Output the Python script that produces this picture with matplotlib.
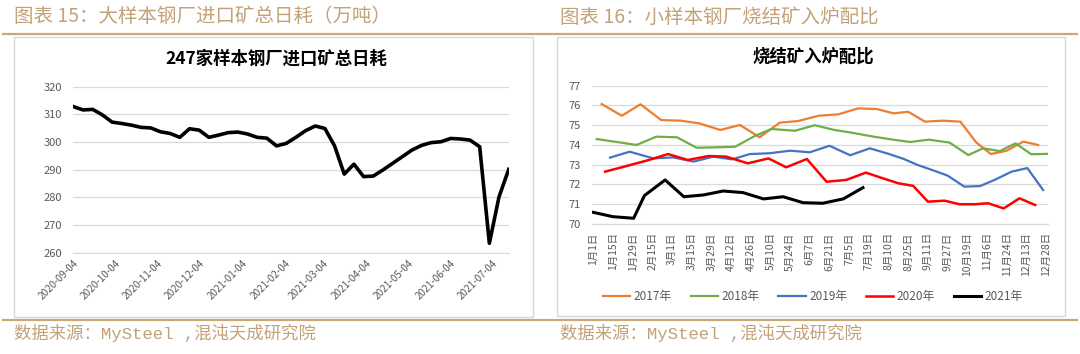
import matplotlib
matplotlib.use('Agg')
import matplotlib.pyplot as plt
import matplotlib.dates as mdates
from matplotlib.lines import Line2D
from matplotlib.patches import Rectangle
import pandas as pd

plt.rcParams['font.family'] = ['Noto Sans CJK SC', 'DejaVu Sans']

# ---- left: 247 mills, imported ore daily consumption (weekly) ----
ore_dates = pd.date_range('2020-09-04', periods=46, freq='7D')
ore_use = [312.8, 311.6, 311.8, 309.8, 307.2, 306.7, 306.1, 305.3, 305.1, 303.7,
           303.1, 301.7, 304.8, 304.3, 301.7, 302.5, 303.4, 303.6, 302.9, 301.7,
           301.4, 298.6, 299.5, 301.7, 304.1, 305.8, 304.9, 298.6, 288.4, 292.0,
           287.5, 287.7, 289.9, 292.3, 294.7, 297.1, 298.8, 299.8, 300.1, 301.3,
           301.1, 300.7, 298.3, 263.4, 280.2, 290.1]

# ---- right: sinter ratio, by year (x = position on the category axis) ----
cat_labels = ['1月1日', '1月15日', '1月29日', '2月15日', '3月1日', '3月15日', '3月29日',
              '4月12日', '4月26日', '5月10日', '5月24日', '6月7日', '6月21日', '7月5日',
              '7月19日', '8月10日', '8月25日', '9月11日', '9月27日', '10月19日',
              '11月6日', '11月24日', '12月13日', '12月28日']

x2017 = [0.85, 2.9, 4.8, 6.9, 8.9, 10.8, 12.9, 14.9, 16.9, 18.95, 20.8, 22.9, 24.9,
         26.9, 28.8, 30.5, 32.0, 33.7, 35.5, 37.3, 38.9, 40.4, 42.0, 43.7, 45.2]
y2017 = [76.07, 75.48, 76.06, 75.26, 75.23, 75.09, 74.76, 75.01, 74.39, 75.13, 75.21,
         75.48, 75.55, 75.85, 75.82, 75.60, 75.68, 75.18, 75.23, 75.18, 74.13, 73.54,
         73.71, 74.17, 74.00]

x2018 = [0.35, 2.4, 4.4, 6.4, 8.5, 10.5, 12.5, 14.4, 16.4, 18.1, 20.5, 22.5, 24.5,
         26.5, 28.5, 30.3, 32.2, 34.1, 36.2, 38.1, 39.6, 41.3, 42.9, 44.5, 46.1]
y2018 = [74.30, 74.15, 74.00, 74.42, 74.39, 73.86, 73.88, 73.91, 74.45, 74.81, 74.72,
         75.00, 74.76, 74.60, 74.42, 74.28, 74.15, 74.27, 74.12, 73.49, 73.83, 73.69,
         74.08, 73.53, 73.55]

x2019 = [1.7, 3.7, 6.1, 8.1, 10.2, 12.2, 14.1, 15.9, 17.9, 20.0, 22.0, 24.0, 26.1,
         28.1, 30.0, 31.5, 33.0, 34.5, 36.0, 37.7, 39.3, 40.9, 42.5, 44.1, 45.7]
y2019 = [73.36, 73.66, 73.32, 73.37, 73.16, 73.41, 73.27, 73.54, 73.58, 73.71, 73.63,
         73.96, 73.48, 73.83, 73.55, 73.30, 72.98, 72.72, 72.45, 71.89, 71.92, 72.26,
         72.65, 72.83, 71.72]

x2020 = [1.2, 3.5, 5.5, 7.6, 9.6, 11.7, 13.5, 15.7, 17.8, 19.6, 21.7, 23.7, 25.7,
         27.7, 29.5, 31.0, 32.5, 34.0, 35.7, 37.2, 38.8, 40.1, 41.7, 43.3, 44.9]
y2020 = [72.65, 72.95, 73.22, 73.54, 73.24, 73.44, 73.41, 73.07, 73.32, 72.87, 73.29,
         72.14, 72.23, 72.60, 72.30, 72.06, 71.93, 71.13, 71.18, 71.00, 71.00, 71.05,
         70.79, 71.30, 70.96]

x2021 = [0.0, 2.0, 4.1, 5.2, 7.3, 9.2, 11.2, 13.2, 15.2, 17.3, 19.3, 21.3, 23.3, 25.4, 27.4]
y2021 = [70.59, 70.37, 70.29, 71.44, 72.23, 71.38, 71.47, 71.67, 71.59, 71.27, 71.38,
         71.08, 71.05, 71.27, 71.84]

W, H = 1080, 354
TAN = '#C2A277'
GRID = '#D9D9D9'
TICK = '#595959'

fig = plt.figure(figsize=(W / 100, H / 100), dpi=100)


def box(x0, y0, x1, y1):
    # pixel box (y from top) -> figure fraction rect
    return [x0 / W, 1 - y1 / H, (x1 - x0) / W, (y1 - y0) / H]


def style(ax):
    for s in ['top', 'right', 'left']:
        ax.spines[s].set_visible(False)
    ax.spines['bottom'].set_color(GRID)
    ax.grid(axis='y', color=GRID, lw=0.9)
    ax.set_axisbelow(True)
    ax.tick_params(length=0, colors=TICK, labelsize=8)
    ax.tick_params(axis='y', pad=8)


# panel frames, header and footer rules
fig.add_artist(Rectangle((13.5 / W, 1 - 317 / H), (533.3 - 13.5) / W, (317 - 37) / H,
                         transform=fig.transFigure, fill=False, ec=GRID, lw=1))
fig.add_artist(Rectangle((556.7 / W, 1 - 316 / H), (1065 - 556.7) / W, (316 - 37) / H,
                         transform=fig.transFigure, fill=False, ec=GRID, lw=1))
for yy in [33.5, 320]:
    fig.add_artist(Line2D([3 / W, 1077 / W], [1 - yy / H] * 2, transform=fig.transFigure,
                          color='#C9A874', lw=1.6))

fig.text(14 / W, 1 - 17 / H, '图表 15：大样本钢厂进口矿总日耗（万吨）', color=TAN,
         fontsize=14, va='center', weight='light')
fig.text(560 / W, 1 - 17 / H, '图表 16：小样本钢厂烧结矿入炉配比', color=TAN,
         fontsize=14, va='center', weight='light')
for xx in [14, 560]:
    fig.text(xx / W, 1 - 333 / H, '数据来源：MySteel ,混沌天成研究院', color=TAN,
             fontsize=12.5, va='center', family=['Liberation Mono', 'Noto Sans CJK SC'])

# left chart
ax1 = fig.add_axes(box(73.4, 86.7, 508.7, 252.7))
style(ax1)
ax1.plot(ore_dates, ore_use, color='black', lw=2.6)
ax1.set_ylim(260, 320)
ax1.set_yticks(range(260, 321, 10))
ax1.set_xlim(ore_dates[0], ore_dates[-1])
ax1.xaxis.set_major_locator(mdates.MonthLocator(bymonthday=4))
ax1.xaxis.set_major_formatter(mdates.DateFormatter('%Y-%m-%d'))
ax1.tick_params(axis='x', labelsize=7.2, pad=4)
plt.setp(ax1.get_xticklabels(), rotation=45, ha='right', rotation_mode='anchor')
fig.text(276 / W, 1 - 58.3 / H, '247家样本钢厂进口矿总日耗', ha='center', va='center',
         fontsize=12.5, weight='bold')

# right chart
ax2 = fig.add_axes(box(591.7, 85.7, 1048, 224))
style(ax2)
series = [(x2017, y2017, '#ED7D31', 1.6, '2017年'),
          (x2018, y2018, '#70AD47', 1.6, '2018年'),
          (x2019, y2019, '#4472C4', 1.6, '2019年'),
          (x2020, y2020, '#FF0000', 1.8, '2020年'),
          (x2021, y2021, '#000000', 2.2, '2021年')]
handles = []
for xs, ys, c, lw, name in series:
    h, = ax2.plot(xs, ys, color=c, lw=lw, label=name)
    handles.append(h)
ax2.set_ylim(70, 77)
ax2.set_yticks(range(70, 78))
ax2.set_xlim(-0.16, 46.2)
ax2.set_xticks(range(0, 47, 2))
ax2.set_xticklabels(cat_labels, rotation=90, va='top', ha='center', fontsize=7.5)
ax2.tick_params(axis='x', pad=6)
fig.text(813 / W, 1 - 56.7 / H, '烧结矿入炉配比', ha='center', va='center',
         fontsize=12.5, weight='bold')
fig.legend(handles=handles, loc='center', bbox_to_anchor=(813 / W, 1 - 296.7 / H),
           ncol=5, frameon=False, fontsize=8.5, handlelength=2.3, handletextpad=0.3,
           columnspacing=1.6, labelcolor=TICK)

fig.savefig('out.png', dpi=100)
